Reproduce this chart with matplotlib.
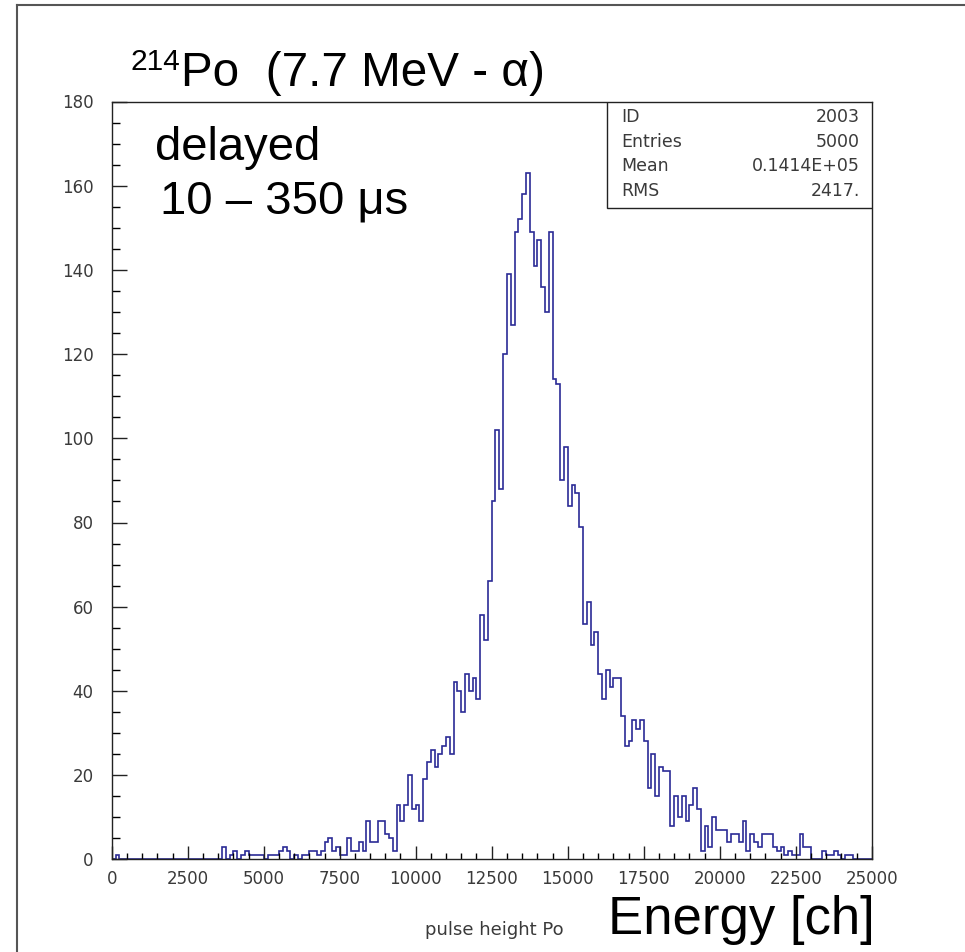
import matplotlib.pyplot as plt
from matplotlib.lines import Line2D
from matplotlib.patches import Rectangle

# histogram 2003: pulse height of the delayed Po-214 alpha, 200 bins of 125 ch
bin_width = 125
counts = [
    0, 1, 0, 0, 0, 0, 0, 0, 0, 0,
    0, 0, 0, 0, 0, 0, 0, 0, 0, 0,
    0, 0, 0, 0, 0, 0, 0, 0, 0, 3,
    0, 1, 2, 0, 1, 2, 1, 1, 1, 1,
    0, 1, 1, 1, 2, 3, 2, 0, 1, 0,
    1, 1, 2, 2, 1, 2, 4, 5, 2, 3,
    1, 1, 5, 2, 2, 4, 2, 9, 4, 4,
    9, 9, 6, 5, 2, 13, 9, 13, 20, 12,
    13, 9, 19, 23, 26, 22, 25, 27, 29, 25,
    42, 40, 35, 44, 40, 43, 38, 58, 52, 66,
    85, 102, 88, 120, 139, 127, 149, 152, 158, 163,
    149, 141, 147, 136, 130, 149, 114, 113, 90, 98,
    84, 89, 87, 79, 56, 61, 51, 54, 44, 38,
    45, 41, 43, 43, 34, 27, 28, 33, 31, 33,
    28, 17, 25, 15, 22, 21, 21, 8, 15, 10,
    15, 9, 13, 17, 12, 2, 8, 3, 10, 7,
    7, 7, 4, 6, 6, 4, 9, 2, 6, 4,
    3, 6, 6, 6, 3, 2, 3, 1, 2, 1,
    1, 6, 3, 3, 0, 0, 0, 2, 1, 1,
    2, 1, 0, 1, 1, 0, 0, 0, 0, 0,
]
edges = [i * bin_width for i in range(len(counts) + 1)]

x_major = list(range(0, 25001, 2500))
y_major = list(range(0, 181, 20))

stat_names = ["ID", "Entries", "Mean", "RMS"]
stat_values = ["2003", "5000", "0.1414E+05", "2417."]

W, H = 965, 952


def fx(px):
    return px / W


def fy(py):
    return 1 - py / H


fig = plt.figure(figsize=(W / 100, H / 100), dpi=100)

# outer frame of the slide (top and left edges only)
fig.add_artist(Line2D([fx(16.5), 1], [fy(5), fy(5)], color="#555555", lw=1.5))
fig.add_artist(Line2D([fx(16.5), fx(16.5)], [fy(5), 0], color="#555555", lw=1.5))

ax = fig.add_axes([fx(111.7), fy(859.3), 760 / W, 757.8 / H])
ax.stairs(counts, edges, color="#2b2b96", linewidth=1.2)

ax.set_xlim(0, 25000)
ax.set_ylim(0, 180)
ax.set_xticks(x_major)
ax.set_xticks(range(0, 25001, 500), minor=True)
ax.set_yticks(y_major)
ax.set_yticks(range(0, 181, 5), minor=True)
ax.xaxis.set_tick_params(which="major", direction="in", length=9.5, width=1, pad=8)
ax.xaxis.set_tick_params(which="minor", direction="in", length=4.5, width=1)
ax.yaxis.set_tick_params(which="major", direction="in", length=10.5, width=1, pad=13)
ax.yaxis.set_tick_params(which="minor", direction="in", length=5.5, width=1)
ax.tick_params(labelsize=12, labelcolor="#3a3a3a", color="#222222")
for s in ax.spines.values():
    s.set_color("#222222")
    s.set_linewidth(1)

# statistics box in the upper right corner
box_left = (607 - 111.7) / 760
box_bottom = (859.3 - 208) / 757.8
ax.add_patch(Rectangle((box_left, box_bottom), 1 - box_left, 1 - box_bottom,
                       transform=ax.transAxes, facecolor="white",
                       edgecolor="#222222", lw=1, zorder=5))
for i, (name, val) in enumerate(zip(stat_names, stat_values)):
    yy = (859.3 - (117 + i * 24.7)) / 757.8
    ax.text((621 - 111.7) / 760, yy, name, transform=ax.transAxes,
            ha="left", va="center", fontsize=12.5, color="#3a3a3a", zorder=6)
    ax.text((860 - 111.7) / 760, yy, val, transform=ax.transAxes,
            ha="right", va="center", fontsize=12.5, color="#3a3a3a", zorder=6)

big = dict(family="Liberation Sans", color="black")
fig.text(fx(130), fy(70), "214", fontsize=21.5, va="baseline", **big)
fig.text(fx(181), fy(86), "Po  (7.7 MeV - α)", fontsize=34.3, va="baseline", **big)
fig.text(fx(155), fy(160), "delayed", fontsize=34, va="baseline", **big)
fig.text(fx(160), fy(213), "10 – 350 μs", fontsize=34, va="baseline", **big)
fig.text(fx(608), fy(934), "Energy [ch]", fontsize=38, va="baseline", **big)
fig.text(fx(494), fy(930), "pulse height Po", fontsize=13, ha="center",
         va="center", color="#3a3a3a")

fig.savefig("out.png", dpi=100)
